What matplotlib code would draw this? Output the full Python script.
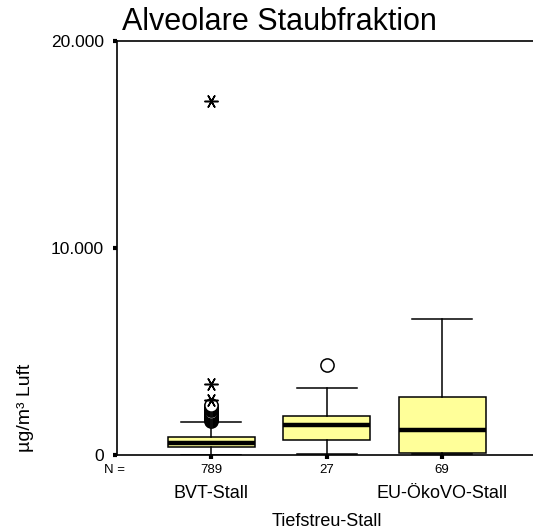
import matplotlib.pyplot as plt
import matplotlib.transforms as mtransforms

plt.rcParams['font.family'] = ['Liberation Sans', 'DejaVu Sans']

# Werte (µg/m³ Luft)
gruppen = ["BVT-Stall", "Tiefstreu-Stall", "EU-ÖkoVO-Stall"]
n_werte = [789, 27, 69]
q1 = [400, 710, 100]
median = [595, 1465, 1195]
q3 = [855, 1885, 2815]
whisker_lo = [20, 50, 50]
whisker_hi = [1595, 3220, 6585]
ausreisser_kreis = [[1650, 1700, 1750, 1800, 1850, 1900, 1950, 2000, 2050, 2100,
                     2150, 2200, 2250, 2300, 2350, 2400], [4350], []]
extremwerte = [[2660, 3415, 17100], [], []]
yticks = [0, 10000, 20000]
ytick_labels = ["0", "10.000", "20.000"]

W, H = 533, 531
fig = plt.figure(figsize=(W / 100, H / 100), dpi=100)
ax = fig.add_axes([116.5 / W, (H - 455) / H, 1 - 116.5 / W, (455 - 41) / H])

stats = []
for i in range(3):
    stats.append({"med": median[i], "q1": q1[i], "q3": q3[i],
                  "whislo": whisker_lo[i], "whishi": whisker_hi[i], "fliers": []})

pos = [1, 2, 3]
ax.bxp(stats, positions=pos, widths=0.75, showfliers=False, patch_artist=True,
       boxprops=dict(facecolor="#ffff99", edgecolor="black", linewidth=1.1),
       medianprops=dict(color="black", linewidth=3.2),
       whiskerprops=dict(color="black", linewidth=1.1),
       capprops=dict(color="black", linewidth=1.1), capwidths=0.52)

for i in range(3):
    if ausreisser_kreis[i]:
        ax.plot([pos[i]] * len(ausreisser_kreis[i]), ausreisser_kreis[i], linestyle="none",
                marker="o", markersize=9.5, markerfacecolor="white", markeredgecolor="black",
                markeredgewidth=1.1)
    if extremwerte[i]:
        ax.plot([pos[i]] * len(extremwerte[i]), extremwerte[i], linestyle="none",
                marker=(6, 2, 90), markersize=10, color="black", markeredgewidth=1.1)

ax.set_xlim(0.18, 3.786)
ax.set_ylim(0, 20000)
ax.spines["right"].set_visible(False)
for s in ["left", "bottom", "top"]:
    ax.spines[s].set_linewidth(1.2)

ax.set_yticks(yticks)
ax.set_yticklabels(ytick_labels, fontsize=12.5)
ax.set_xticks(pos)
ax.set_xticklabels([])
ax.tick_params(axis="both", direction="out", length=3, width=3)
ax.tick_params(axis="y", pad=6)

tr = mtransforms.blended_transform_factory(ax.transData, fig.transFigure)
for i in range(3):
    ax.text(pos[i], 1 - 470 / H, str(n_werte[i]), transform=tr, ha="center", va="center", fontsize=9.5)
fig.text(115 / W, 1 - 470 / H, "N =", ha="center", va="center", fontsize=9.5)
ax.text(pos[0], 1 - 494 / H, gruppen[0], transform=tr, ha="center", va="center", fontsize=13)
ax.text(pos[2], 1 - 494 / H, gruppen[2], transform=tr, ha="center", va="center", fontsize=13)
ax.text(pos[1], 1 - 522 / H, gruppen[1], transform=tr, ha="center", va="center", fontsize=13)

fig.text(25 / W, 1 - 408 / H, "µg/m³ Luft", rotation=90, ha="center", va="center", fontsize=14)
fig.text(279 / W, 1 - 22 / H, "Alveolare Staubfraktion", ha="center", va="center", fontsize=22)

fig.savefig("out.png", dpi=100)
